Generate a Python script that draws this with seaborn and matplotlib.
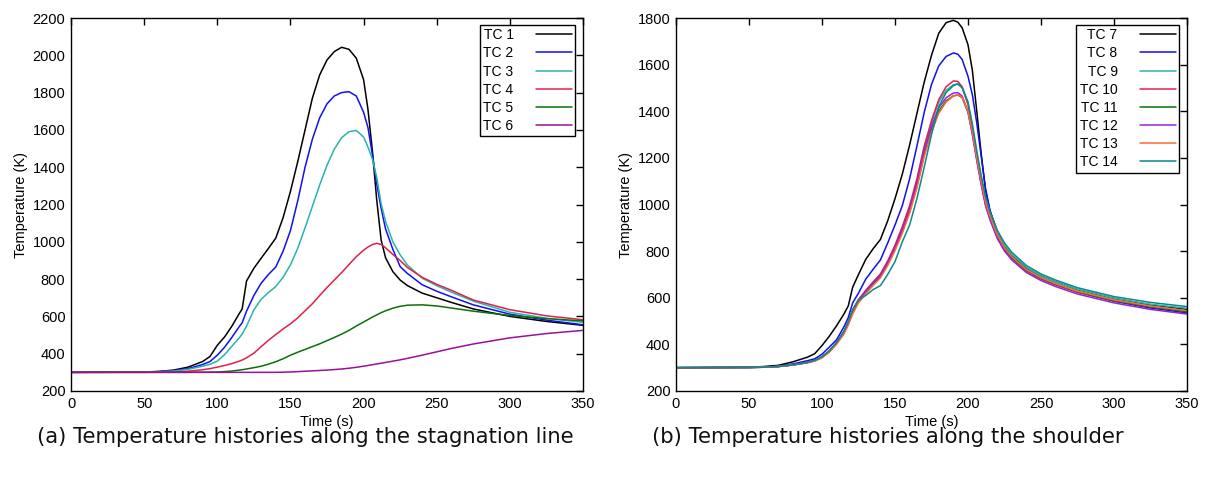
import numpy as np
import pandas as pd
import matplotlib
matplotlib.use("Agg")
import matplotlib.pyplot as plt
import seaborn as sns

# ---- panel (a): stagnation line ----
TIME_A = [0, 50, 60, 70, 80, 90, 95, 100, 105, 110, 115, 117, 120, 125, 130, 135, 140, 145,
          150, 155, 160, 165, 170, 175, 180, 185, 190, 195, 200, 203, 206, 209, 212, 215,
          220, 225, 230, 240, 250, 260, 275, 300, 325, 350]
TC1 = [300, 302, 305, 312, 328, 358, 385, 445, 490, 548, 615, 640, 790, 858, 912, 965, 1020, 1130,
       1270, 1430, 1600, 1770, 1895, 1975, 2020, 2043, 2032, 1985, 1870, 1710, 1490, 1224, 1010, 915,
       840, 795, 765, 725, 700, 675, 640, 600, 573, 552]
TC2 = [300, 301, 304, 309, 320, 342, 358, 392, 435, 488, 545, 566, 628, 712, 778, 825, 865, 950,
       1060, 1220, 1400, 1550, 1665, 1740, 1782, 1800, 1805, 1782, 1695, 1612, 1470, 1310, 1180, 1070,
       960, 867, 830, 770, 735, 705, 662, 612, 580, 555]
TC3 = [300, 301, 303, 307, 316, 333, 343, 360, 395, 440, 485, 505, 548, 635, 692, 728, 760, 810,
       876, 965, 1075, 1190, 1305, 1410, 1497, 1558, 1590, 1597, 1562, 1508, 1445, 1345, 1205, 1110,
       1000, 930, 875, 805, 765, 730, 682, 622, 590, 568]
TC4 = [300, 300, 301, 302, 306, 314, 320, 328, 337, 347, 360, 366, 378, 403, 438, 472, 503, 533,
       560, 592, 630, 668, 712, 755, 795, 835, 878, 920, 955, 972, 985, 992, 986, 968,
       932, 900, 862, 810, 772, 740, 688, 636, 603, 582]
TC5 = [300, 300, 300, 300, 300, 301, 301, 302, 304, 307, 312, 314, 318, 325, 333, 344, 357, 373,
       392, 408, 423, 438, 453, 470, 487, 505, 525, 548, 570, 583, 596, 608, 620, 630,
       644, 654, 660, 662, 656, 645, 628, 605, 588, 576]
TC6 = [300, 300, 300, 300, 300, 300, 300, 300, 300, 300, 300, 300, 300, 300, 300, 300, 300, 301,
       302, 304, 306, 308, 310, 312, 315, 318, 322, 327, 333, 337, 341, 345, 349, 353,
       360, 367, 375, 392, 410, 428, 452, 485, 508, 525]

# ---- panel (b): shoulder ----
TIME_B = [0, 50, 60, 70, 80, 90, 95, 100, 105, 110, 115, 118, 121, 125, 130, 135, 140, 145, 150,
          155, 160, 165, 170, 175, 180, 185, 190, 193, 196, 200, 203, 206, 209, 212, 215, 220,
          225, 230, 240, 250, 260, 275, 300, 325, 350]
TC7 = [300, 302, 305, 310, 325, 345, 360, 395, 435, 480, 530, 565, 645, 700, 765, 810, 850, 930, 1025,
       1130, 1255, 1390, 1525, 1640, 1735, 1780, 1790, 1782, 1758, 1685, 1575, 1400, 1220, 1060, 975, 885,
       822, 782, 728, 694, 668, 635, 597, 570, 550]
TC8 = [300, 301, 303, 307, 316, 330, 338, 358, 388, 420, 475, 515, 578, 620, 680, 722, 762, 835, 912,
       995, 1110, 1250, 1395, 1515, 1595, 1635, 1650, 1645, 1622, 1550, 1470, 1350, 1210, 1070, 975, 875,
       815, 775, 720, 685, 658, 624, 585, 556, 535]
TC9 = [300, 301, 302, 305, 312, 322, 331, 346, 371, 407, 455, 496, 546, 590, 628, 662, 695, 748, 815,
       895, 985, 1100, 1240, 1350, 1440, 1490, 1514, 1517, 1500, 1430, 1335, 1220, 1115, 1025, 960, 880,
       825, 786, 730, 694, 668, 636, 598, 572, 555]
TC10 = [300, 301, 302, 305, 312, 323, 331, 347, 372, 408, 455, 495, 548, 592, 632, 668, 702, 758, 825,
        905, 995, 1110, 1250, 1360, 1450, 1505, 1530, 1528, 1505, 1430, 1320, 1200, 1095, 1000, 940, 860,
        806, 768, 714, 680, 655, 624, 587, 561, 542]
TC11 = [300, 301, 302, 305, 312, 322, 330, 345, 370, 405, 450, 490, 540, 585, 625, 660, 692, 745, 810,
        885, 970, 1080, 1215, 1320, 1400, 1445, 1466, 1470, 1458, 1395, 1305, 1195, 1095, 1005, 945, 865,
        810, 772, 718, 684, 658, 626, 588, 561, 540]
TC12 = [300, 301, 302, 305, 312, 322, 330, 346, 371, 406, 452, 492, 544, 588, 628, 664, 697, 750, 815,
        892, 978, 1090, 1228, 1335, 1415, 1458, 1478, 1480, 1465, 1398, 1300, 1188, 1085, 995, 935, 855,
        800, 762, 708, 674, 648, 616, 578, 550, 530]
TC13 = [300, 301, 302, 305, 311, 321, 328, 342, 366, 400, 444, 482, 530, 578, 618, 652, 685, 738, 802,
        876, 962, 1070, 1205, 1310, 1392, 1440, 1465, 1470, 1460, 1400, 1312, 1200, 1100, 1010, 950, 870,
        814, 776, 720, 686, 660, 628, 591, 564, 545]
TC14 = [300, 301, 302, 305, 312, 322, 331, 346, 372, 408, 456, 498, 548, 590, 610, 635, 652, 700, 755,
        840, 912, 1025, 1160, 1300, 1420, 1480, 1510, 1517, 1502, 1440, 1345, 1230, 1125, 1035, 970, 890,
        835, 795, 738, 702, 676, 643, 605, 580, 562]

LABELS_A = ["TC 1", "TC 2", "TC 3", "TC 4", "TC 5", "TC 6"]
LABELS_B = ["TC 7", "TC 8", "TC 9", "TC 10", "TC 11", "TC 12", "TC 13", "TC 14"]
COLORS_A = ["#000000", "#1010f0", "#2ab3ad", "#e0204a", "#0a700a", "#9a109a"]
COLORS_B = ["#000000", "#1010f0", "#2ab3ad", "#e0204a", "#0a700a", "#9a20e0", "#ff6a30", "#0a8a88"]

CAPTION_A = "(a) Temperature histories along the stagnation line"
CAPTION_B = "(b) Temperature histories along the shoulder"


def long_frame(time, series, labels):
    rows = []
    for lab, vals in zip(labels, series):
        rows.append(pd.DataFrame({"Time": time, "T": vals, "TC": lab}))
    return pd.concat(rows, ignore_index=True)


sns.set_theme(style="white")
plt.rcParams.update({
    "font.family": ["Liberation Sans", "DejaVu Sans"],
    "text.color": "black",
    "axes.labelcolor": "black",
    "axes.edgecolor": "black",
    "axes.linewidth": 1.0,
    "xtick.direction": "in",
    "ytick.direction": "in",
    "xtick.top": True,
    "ytick.right": True,
    "xtick.major.size": 5,
    "ytick.major.size": 5,
    "xtick.color": "black",
    "ytick.color": "black",
})

fig = plt.figure(figsize=(12.08, 4.79), dpi=100)
ax_a = fig.add_axes([71 / 1208, 1 - 391 / 479, 512 / 1208, 373 / 479])
ax_b = fig.add_axes([676 / 1208, 1 - 391 / 479, 511 / 1208, 373 / 479])

panels = [
    (ax_a, long_frame(TIME_A, [TC1, TC2, TC3, TC4, TC5, TC6], LABELS_A), LABELS_A, COLORS_A,
     (200, 2200), np.arange(200, 2201, 200)),
    (ax_b, long_frame(TIME_B, [TC7, TC8, TC9, TC10, TC11, TC12, TC13, TC14], LABELS_B), LABELS_B, COLORS_B,
     (200, 1800), np.arange(200, 1801, 200)),
]

for ax, df, labels, colors, ylim, yticks in panels:
    sns.lineplot(data=df, x="Time", y="T", hue="TC", hue_order=labels, palette=colors,
                 estimator=None, sort=False, linewidth=1.1, ax=ax)
    ax.set_xlim(0, 350)
    ax.set_ylim(*ylim)
    ax.set_xticks(np.arange(0, 351, 50))
    ax.set_yticks(yticks)
    ax.tick_params(labelsize=10.5, width=1.0, pad=4)
    ax.set_xlabel("Time (s)", fontsize=10.5, labelpad=3)
    ax.set_ylabel("Temperature (K)", fontsize=10.5, labelpad=3)
    handles, labs = ax.get_legend_handles_labels()
    leg = ax.legend(handles, labs, loc="upper right", bbox_to_anchor=(0.985, 0.982),
                    borderaxespad=0, markerfirst=False, fontsize=10, frameon=True,
                    fancybox=False, framealpha=1, edgecolor="black",
                    handlelength=2.6, handletextpad=1.6, labelspacing=0.3,
                    borderpad=0.25)
    leg.get_frame().set_linewidth(1.0)

fig.text(305 / 1208, 1 - 437 / 479, CAPTION_A, ha="center", va="center",
         fontsize=15.2, family="DejaVu Sans", color="#111111")
fig.text(888 / 1208, 1 - 437 / 479, CAPTION_B, ha="center", va="center",
         fontsize=15.2, family="DejaVu Sans", color="#111111")

fig.savefig("out.png", dpi=100)
